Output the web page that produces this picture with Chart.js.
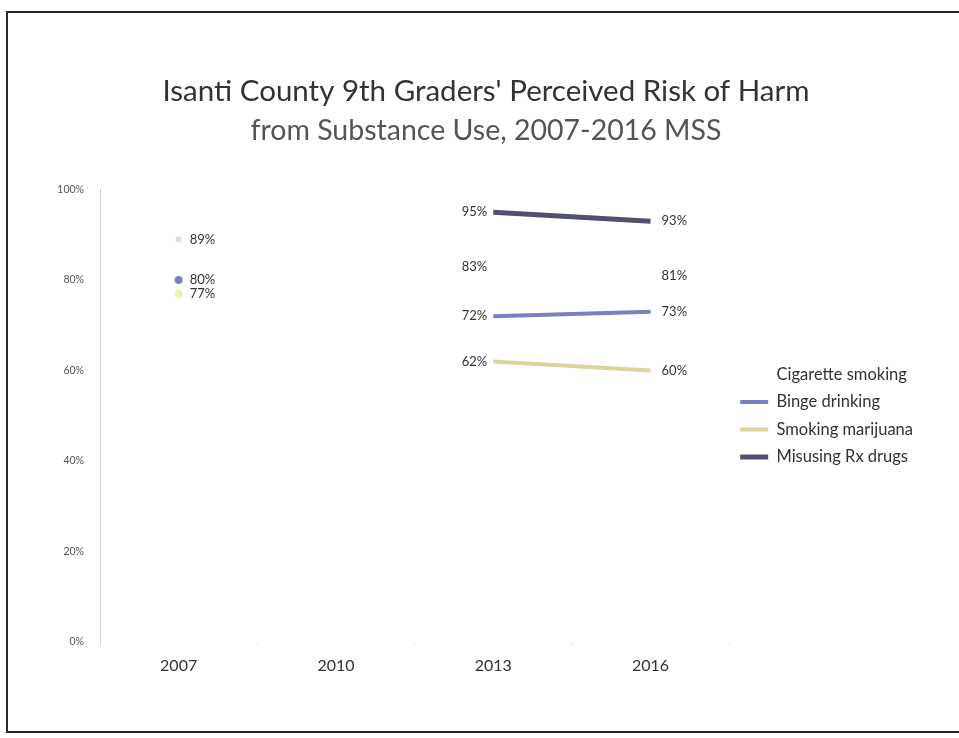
<!DOCTYPE html>
<html>
<head>
<meta charset="utf-8">
<script src="https://cdn.jsdelivr.net/npm/chart.js@4.4.1/dist/chart.umd.min.js"></script>
<style>
    html, body { margin: 0; padding: 0; background: #fff; overflow: hidden; }
    #wrap { position: relative; width: 959px; height: 738px; }
    #frame {
        position: absolute; left: 6px; top: 11px; width: 1000px; height: 722px;
        border: 2px solid #2a2a2a; box-sizing: border-box; pointer-events: none;
    }
    canvas { position: absolute; left: 0; top: 0; }
</style>
</head>
<body>
<div id="wrap">
    <canvas id="riskChart" width="959" height="738"></canvas>
    <div id="frame"></div>
</div>
<script>
// Anos da pesquisa (2010 sem dados)
const years = ['2007', '2010', '2013', '2016'];

// Percentual que considera risco alto/moderado
const cigaretteSmoking = [89, null, 83, 81];
const bingeDrinking = [80, null, 72, 73];
const smokingMarijuana = [77, null, 62, 60];
const misusingRx = [null, null, 95, 93];

const yTicks = [0, 20, 40, 60, 80, 100];

const FONT = 'Lato, "Open Sans", sans-serif';

/**
 * Rótulos de valor ao lado de cada ponto
 * ======================================================================== */
const valueLabels = {
    id: 'valueLabels',
    afterDatasetsDraw(chart) {
        const ctx = chart.ctx;
        ctx.save();
        ctx.font = '13px ' + FONT;
        ctx.fillStyle = '#333';
        ctx.textBaseline = 'middle';
        chart.data.datasets.forEach((ds, i) => {
            const meta = chart.getDatasetMeta(i);
            meta.data.forEach((pt, j) => {
                const v = ds.data[j];
                if (v === null || v === undefined) return;
                // 2013 fica à esquerda do ponto, os demais à direita
                if (j === 2) {
                    ctx.textAlign = 'right';
                    ctx.fillText(v + '%', pt.x - 6, pt.y);
                } else {
                    ctx.textAlign = 'left';
                    ctx.fillText(v + '%', pt.x + 11, pt.y);
                }
            });
        });
        ctx.restore();
    }
};

// Legenda com traço na cor e espessura da linha de cada série
const legendLabels = chart =>
    Chart.defaults.plugins.legend.labels.generateLabels(chart).map(item => {
        const ds = chart.data.datasets[item.datasetIndex];
        return Object.assign(item, {
            strokeStyle: ds.borderColor,
            lineWidth: ds.borderWidth,
            pointStyle: 'line'
        });
    });

new Chart(document.getElementById('riskChart'), {
    type: 'line',
    data: {
        labels: years,
        datasets: [
            {
                label: 'Cigarette smoking',
                data: cigaretteSmoking,
                borderColor: 'rgba(255,255,255,0)',
                backgroundColor: '#dcdce4',
                borderWidth: 4,
                pointRadius: [3, 0, 0, 0],
                pointBorderWidth: 0
            },
            {
                label: 'Binge drinking',
                data: bingeDrinking,
                borderColor: '#7c7fc0',
                backgroundColor: '#7c7fc0',
                borderWidth: 4,
                pointRadius: [4, 0, 0, 0],
                pointBorderWidth: 0
            },
            {
                label: 'Smoking marijuana',
                data: smokingMarijuana,
                borderColor: '#dad59c',
                backgroundColor: '#f1efb8',
                borderWidth: 4,
                pointRadius: [4, 0, 0, 0],
                pointBorderWidth: 0
            },
            {
                label: 'Misusing Rx drugs',
                data: misusingRx,
                borderColor: '#50516f',
                backgroundColor: '#50516f',
                borderWidth: 5,
                pointRadius: 0
            }
        ]
    },
    options: {
        responsive: false,
        animation: false,
        spanGaps: false,
        layout: { padding: { top: 74, left: 49, right: 36, bottom: 56 } },
        plugins: {
            title: {
                display: true,
                text: "Isanti County 9th Graders' Perceived Risk of Harm",
                color: '#333',
                font: { family: FONT, size: 29.5, weight: 'normal', lineHeight: 1.2 },
                padding: { top: 0, bottom: 4 }
            },
            subtitle: {
                display: true,
                text: 'from Substance Use, 2007-2016 MSS',
                color: '#555',
                font: { family: FONT, size: 28.5, weight: 'normal', lineHeight: 1.2 },
                padding: { top: 0, bottom: 42 }
            },
            legend: {
                position: 'right',
                fullSize: false,
                labels: {
                    usePointStyle: true,
                    pointStyleWidth: 28,
                    generateLabels: legendLabels,
                    color: '#333',
                    font: { family: FONT, size: 16.5 },
                    padding: 11
                }
            },
            tooltip: { enabled: false }
        },
        scales: {
            x: {
                offset: true,
                grid: { display: true, offset: true, drawOnChartArea: false, color: '#e6e6e6', tickLength: 4 },
                border: { display: false },
                ticks: { color: '#333', font: { family: FONT, size: 16 }, padding: 10 },
                afterFit: scale => { scale.height = 40; }
            },
            y: {
                min: 0,
                max: 100,
                afterBuildTicks: scale => { scale.ticks = yTicks.map(v => ({ value: v })); },
                grid: { display: false },
                border: { display: true, color: '#d0d0d0', dash: [3, 3] },
                ticks: {
                    color: '#555',
                    font: { family: FONT, size: 10.5 },
                    padding: 8,
                    callback: v => v + '%'
                },
                afterFit: scale => { scale.width = 51; }
            }
        }
    },
    plugins: [valueLabels]
});
</script>
</body>
</html>
